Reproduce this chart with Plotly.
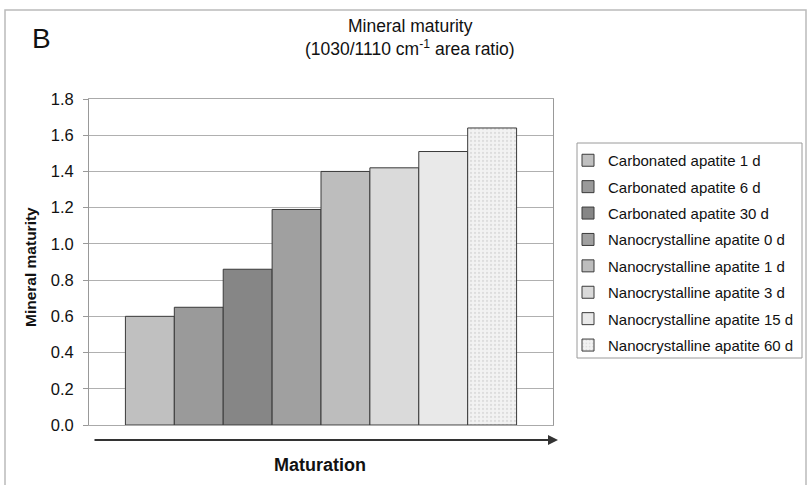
import plotly.graph_objects as go

labels = [
    "Carbonated apatite 1 d",
    "Carbonated apatite 6 d",
    "Carbonated apatite 30 d",
    "Nanocrystalline apatite 0 d",
    "Nanocrystalline apatite 1 d",
    "Nanocrystalline apatite 3 d",
    "Nanocrystalline apatite 15 d",
    "Nanocrystalline apatite 60 d",
]
values = [0.60, 0.65, 0.86, 1.19, 1.40, 1.42, 1.51, 1.64]
y_ticks = [0.0, 0.2, 0.4, 0.6, 0.8, 1.0, 1.2, 1.4, 1.6, 1.8]

colors = ["#c0c0c0", "#9a9a9a", "#868686", "#a0a0a0", "#bdbdbd", "#dadada", "#e9e9e9", "#f2f2f2"]

FONT = "Arial, Liberation Sans, sans-serif"

fig = go.Figure()
for i, (lab, val) in enumerate(zip(labels, values)):
    pat = dict(shape=".", fgcolor="#c8c8c8", size=4, solidity=0.25) if i == len(labels) - 1 else dict(shape="")
    fig.add_trace(go.Bar(
        x=["Maturation"], y=[val], name=lab, legendgroup=f"g{i}",
        marker=dict(color=colors[i], line=dict(color="#3a3a3a", width=1), pattern=pat),
    ))

W, H = 809, 485
L, R, T, B = 89, 553, 99, 425
pw, ph = R - L, B - T

def px(x):
    return (x - L) / pw

def py(y):
    return (B - y) / ph

def ann(text, x, y, size, angle=0):
    return dict(text=text, x=px(x), y=py(y), xref="paper", yref="paper", showarrow=False,
                xanchor="center", yanchor="middle", textangle=angle,
                font=dict(size=size, family=FONT, color="#111"))

fig.update_layout(
    width=W, height=H,
    margin=dict(l=L, r=W - R, t=T, b=H - B, autoexpand=False),
    paper_bgcolor="white", plot_bgcolor="white",
    barmode="group", bargap=0.157, bargroupgap=0,
    font=dict(family=FONT, color="#111"),
    showlegend=True,
    legend=dict(
        x=px(568), y=py(144), xanchor="left", yanchor="top",
        borderwidth=0, bgcolor="rgba(0,0,0,0)",
        font=dict(size=15, family=FONT, color="#111"),
        tracegroupgap=3.9, itemclick=False, itemwidth=30,
    ),
    xaxis=dict(showticklabels=False, ticks="", showline=True, linecolor="#aaaaaa",
               linewidth=1, mirror=True, showgrid=False, range=[-0.5, 0.5]),
    yaxis=dict(range=[0, 1.8], tickvals=y_ticks, ticktext=[f"{v:.1f}" for v in y_ticks],
               showgrid=True, gridcolor="#b0b0b0", gridwidth=1,
               showline=True, linecolor="#999999", linewidth=1, mirror=True,
               ticks="outside", ticklen=5, tickcolor="#999999", ticklabelstandoff=6,
               tickfont=dict(size=16.5, family=FONT, color="#111"), zeroline=False),
    annotations=[
        ann("B", 41, 39, 28),
        ann("Mineral maturity", 410, 26, 17.5),
        ann("(1030/1110 cm<sup>-1</sup> area ratio)", 410, 48, 17.5),
        ann("<b>Mineral maturity</b>", 30, 267, 15.5, -90),
        ann("<b>Maturation</b>", 320, 465, 18),
        dict(text="", x=px(558), y=py(440), xref="paper", yref="paper",
             ax=-465, ay=0, axref="pixel", ayref="pixel", showarrow=True,
             arrowhead=2, arrowsize=1, arrowwidth=2, arrowcolor="#333333", standoff=0),
    ],
    shapes=[
        dict(type="rect", xref="paper", yref="paper", x0=px(5), x1=px(806), y0=py(495), y1=py(10),
             line=dict(color="#bbbbbb", width=1.5), fillcolor="rgba(0,0,0,0)", layer="below"),
        dict(type="rect", xref="paper", yref="paper", x0=px(577), x1=px(802), y0=py(358), y1=py(143),
             line=dict(color="#9a9a9a", width=1), fillcolor="white", layer="below"),
    ],
)

fig.write_html("out.html", config={"displayModeBar": False},
               post_script="document.body.style.margin='0';document.body.style.padding='0';")
